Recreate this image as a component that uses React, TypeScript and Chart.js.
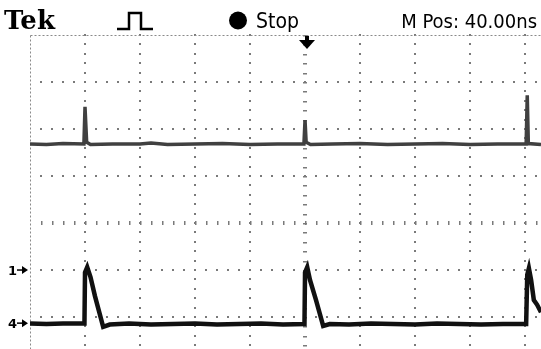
import React, { useEffect, useRef } from "react";
import { Chart, registerables } from "chart.js";

Chart.register(...registerables);

const W = 541;
const H = 349;

// Screen divisions (10 horizontal x 8 vertical); the picture crops the screen at the right/bottom
const xGridDivs = [0, 1, 2, 3, 4, 5, 6, 7, 8, 9, 10];
const yGridDivs = [0, 1, 2, 3, 4, 5, 6, 7, 8];
const xMin = 0;
const xMax = 9.29;
const yMin = 1.32;
const yMax = 8;

// Lower trace (pulses)
const ch1Time = [
  0.0, 0.3, 0.6, 0.99, 1.0, 1.04, 1.1, 1.18, 1.26, 1.33, 1.45, 1.8, 2.2, 2.6, 3.0, 3.4, 3.8, 4.2, 4.6,
  4.99, 5.0, 5.04, 5.09, 5.2, 5.33, 5.45, 5.8, 6.2, 6.6, 7.0, 7.4, 7.8, 8.2, 8.6, 9.02, 9.04, 9.07, 9.11,
  9.16, 9.22, 9.29,
];
const ch1Volts = [
  1.86, 1.85, 1.86, 1.86, 2.95, 3.06, 2.85, 2.45, 2.1, 1.79, 1.84, 1.86, 1.84, 1.85, 1.86, 1.84, 1.85, 1.86,
  1.84, 1.85, 2.95, 3.06, 2.79, 2.36, 1.81, 1.85, 1.84, 1.86, 1.85, 1.84, 1.86, 1.85, 1.84, 1.85, 1.85, 2.9,
  3.04, 2.79, 2.36, 2.26, 2.1,
];

// Upper trace (narrow spikes)
const ch2Time = [
  0.0, 0.3, 0.6, 0.98, 1.0, 1.03, 1.1, 1.5, 2.0, 2.2, 2.5, 3.0, 3.5, 4.0, 4.5, 4.98, 5.0, 5.02, 5.1, 5.5,
  6.0, 6.5, 7.0, 7.5, 8.0, 8.5, 9.02, 9.04, 9.06, 9.29,
];
const ch2Volts = [
  5.68, 5.67, 5.69, 5.68, 6.47, 5.72, 5.67, 5.68, 5.68, 5.7, 5.67, 5.68, 5.69, 5.67, 5.68, 5.68, 6.19, 5.72,
  5.67, 5.68, 5.69, 5.67, 5.68, 5.69, 5.67, 5.68, 5.68, 6.72, 5.69, 5.67,
];

const headerBrand = "Tek";
const runState = "Stop";
const positionLabel = "M Pos: 40.00ns";
const triggerTime = 5.03;
const markerLabels = ["1", "4"];
const markerLevels = [3.0, 1.87];

const scopePlugin = {
  id: "scopeScreen",
  beforeDatasetsDraw(chart: any) {
    const { ctx } = chart;
    const x = chart.scales.x;
    const y = chart.scales.y;
    ctx.save();
    // dotted graticule
    ctx.fillStyle = "#7a7a7a";
    for (const d of xGridDivs) {
      if (d === 0 || d > xMax) continue;
      const px = Math.round(x.getPixelForValue(d));
      for (let k = 0; k <= 40; k++) {
        const v = yMax - k * 0.2;
        if (v < yMin) break;
        const py = Math.round(y.getPixelForValue(v));
        if (d === 5) {
          ctx.fillRect(px - 2, py, 4, 1.5);
        } else {
          ctx.fillRect(px - 1, py - 1, 2, 2);
        }
      }
    }
    for (const v of yGridDivs) {
      if (v === yMax || v < yMin) continue;
      const py = Math.round(y.getPixelForValue(v));
      for (let k = 0; k <= 50; k++) {
        const d = k * 0.2;
        if (d > xMax) break;
        if (k === 0) continue;
        const px = Math.round(x.getPixelForValue(d));
        if (v === 4) {
          ctx.fillRect(px, py - 2, 1.5, 4);
        } else {
          ctx.fillRect(px - 1, py - 1, 2, 2);
        }
      }
    }
    // borders (top, left)
    ctx.strokeStyle = "#8a8a8a";
    ctx.lineWidth = 1;
    ctx.setLineDash([2, 2]);
    const top = Math.round(y.getPixelForValue(yMax)) + 0.5;
    const left = Math.round(x.getPixelForValue(xMin)) + 0.5;
    ctx.beginPath();
    ctx.moveTo(left, top);
    ctx.lineTo(W, top);
    ctx.moveTo(left, top);
    ctx.lineTo(left, H);
    ctx.stroke();
    ctx.setLineDash([]);
    ctx.restore();
  },
  afterDraw(chart: any) {
    const { ctx } = chart;
    const x = chart.scales.x;
    const y = chart.scales.y;
    ctx.save();
    ctx.fillStyle = "#000";
    ctx.strokeStyle = "#000";
    ctx.textBaseline = "alphabetic";
    // brand
    ctx.font = "bold 26px 'DejaVu Serif'";
    ctx.textAlign = "left";
    ctx.fillText(headerBrand, 4, 29);
    // trigger-type pulse icon
    ctx.lineWidth = 2.5;
    ctx.beginPath();
    ctx.moveTo(117, 29);
    ctx.lineTo(129, 29);
    ctx.lineTo(129, 13);
    ctx.lineTo(141, 13);
    ctx.lineTo(141, 29);
    ctx.lineTo(153, 29);
    ctx.stroke();
    // run state
    ctx.beginPath();
    ctx.arc(238, 20.5, 9, 0, Math.PI * 2);
    ctx.fill();
    ctx.font = "21px 'DejaVu Sans Condensed', 'DejaVu Sans'";
    ctx.fillText(runState, 256, 28);
    ctx.textAlign = "right";
    ctx.font = "20px 'DejaVu Sans Condensed', 'DejaVu Sans'";
    ctx.fillText(positionLabel, 537, 28);
    // trigger position arrow
    const tx = Math.round(x.getPixelForValue(triggerTime));
    ctx.fillRect(tx - 2, 36, 4, 5);
    ctx.beginPath();
    ctx.moveTo(tx - 8, 40);
    ctx.lineTo(tx + 8, 40);
    ctx.lineTo(tx, 49);
    ctx.closePath();
    ctx.fill();
    // channel ground markers
    ctx.textAlign = "left";
    ctx.font = "bold 13px 'DejaVu Sans'";
    markerLabels.forEach((lab, i) => {
      const py = y.getPixelForValue(markerLevels[i]);
      ctx.fillText(lab, 8, py + 5);
      ctx.fillRect(17, py - 0.75, 7, 1.5);
      ctx.beginPath();
      ctx.moveTo(22, py - 4);
      ctx.lineTo(28, py);
      ctx.lineTo(22, py + 4);
      ctx.closePath();
      ctx.fill();
    });
    ctx.restore();
  },
};

export default function App() {
  const canvasRef = useRef<HTMLCanvasElement | null>(null);

  useEffect(() => {
    const canvas = canvasRef.current;
    if (!canvas) return;
    const chart = new Chart(canvas, {
      type: "line",
      data: {
        datasets: [
          {
            label: "CH2",
            data: ch2Time.map((t, i) => ({ x: t, y: ch2Volts[i] })),
            borderColor: "#404040",
            borderWidth: 3.5,
            pointRadius: 0,
            tension: 0,
          },
          {
            label: "CH1",
            data: ch1Time.map((t, i) => ({ x: t, y: ch1Volts[i] })),
            borderColor: "#111",
            borderWidth: 4.5,
            pointRadius: 0,
            tension: 0,
          },
        ],
      },
      options: {
        responsive: false,
        animation: false,
        devicePixelRatio: 1,
        layout: { padding: { left: 30, top: 35, right: 0, bottom: 0 } },
        plugins: { legend: { display: false }, tooltip: { enabled: false }, title: { display: false } },
        scales: {
          x: { type: "linear", min: xMin, max: xMax, display: false },
          y: { type: "linear", min: yMin, max: yMax, display: false },
        },
      },
      plugins: [scopePlugin],
    });
    return () => chart.destroy();
  }, []);

  return (
    <div style={{ position: "absolute", left: 0, top: 0, width: W, height: H, background: "#fff" }}>
      <canvas ref={canvasRef} width={W} height={H} style={{ display: "block", width: W, height: H }} />
    </div>
  );
}
